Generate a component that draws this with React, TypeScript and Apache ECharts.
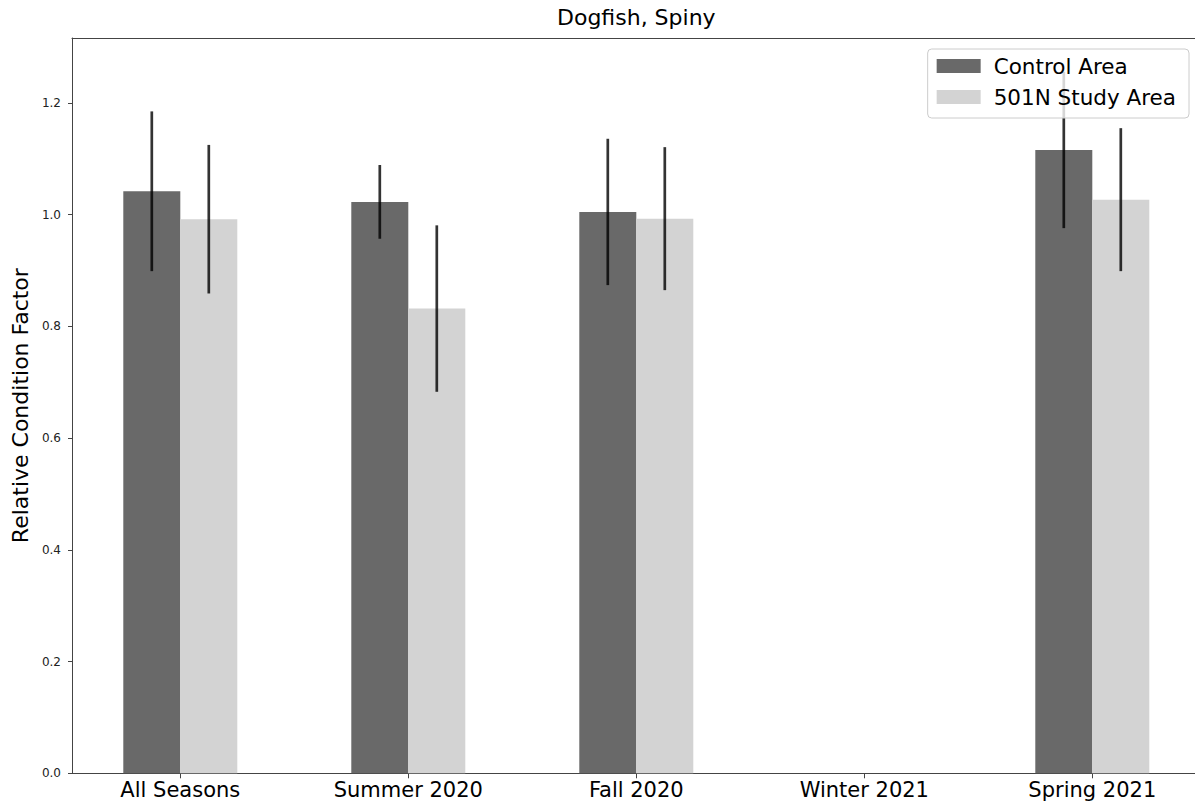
import React, { useEffect, useRef } from "react";
import * as echarts from "echarts";

const categories = ["All Seasons", "Summer 2020", "Fall 2020", "Winter 2021", "Spring 2021"];
const categoryIndex = [0, 1, 2, 4];
const controlValues = [1.042, 1.023, 1.005, 1.116];
const controlErrors = [0.143, 0.066, 0.131, 0.140];
const studyValues = [0.992, 0.832, 0.993, 1.027];
const studyErrors = [0.133, 0.149, 0.128, 0.128];
const yTicks = [0, 0.2, 0.4, 0.6, 0.8, 1.0, 1.2];

const FONT = "DejaVu Sans";

export default function App() {
  const ref = useRef<HTMLDivElement>(null);
  useEffect(() => {
    if (!ref.current) return;
    const chart = echarts.init(ref.current, null, { renderer: "svg" });

    const controlData = categoryIndex.map((c, i) => [c, controlValues[i]]);
    const studyData = categoryIndex.map((c, i) => [c, studyValues[i]]);
    const errData: number[][] = [];
    categoryIndex.forEach((c, i) => {
      errData.push([c, controlValues[i] - controlErrors[i], controlValues[i] + controlErrors[i], -1]);
      errData.push([c, studyValues[i] - studyErrors[i], studyValues[i] + studyErrors[i], 1]);
    });

    chart.setOption({
      animation: false,
      backgroundColor: "#ffffff",
      textStyle: { fontFamily: FONT },
      title: {
        text: "Dogfish, Spiny",
        left: 557,
        top: 6,
        padding: 0,
        textStyle: { fontFamily: FONT, fontSize: 22, fontWeight: "normal", color: "#000" },
      },
      legend: {
        orient: "vertical",
        right: 21,
        top: 49,
        data: ["Control Area", "501N Study Area"],
        icon: "rect",
        itemWidth: 44,
        itemHeight: 14,
        itemGap: 9,
        padding: [6, 13, 10, 9],
        backgroundColor: "rgba(255,255,255,0.8)",
        borderColor: "#cccccc",
        borderWidth: 1,
        borderRadius: 4,
        textStyle: { fontFamily: FONT, fontSize: 21.5, color: "#000", padding: [0, 0, 0, 8] },
      },
      grid: {
        left: 72,
        top: 38,
        right: 9.4,
        bottom: 32.7,
        outerBoundsMode: "none",
        show: false,
      },
      xAxis: [
        {
          type: "value",
          min: -0.475,
          max: 4.475,
          splitLine: { show: false },
          axisLine: { show: true, onZero: false, lineStyle: { color: "#444", width: 1 } },
          axisTick: { show: true, customValues: [0, 1, 2, 3, 4], length: 5, lineStyle: { color: "#444" } },
          axisLabel: {
            customValues: [0, 1, 2, 3, 4],
            formatter: (v: number) => categories[Math.round(v)],
            fontFamily: FONT,
            fontSize: 21,
            color: "#000",
            margin: 6,
          },
        },
        {
          type: "value",
          position: "top",
          min: -0.475,
          max: 4.475,
          splitLine: { show: false },
          axisLine: { show: true, onZero: false, lineStyle: { color: "#444", width: 1 } },
          axisTick: { show: false },
          axisLabel: { show: false },
        },
      ],
      yAxis: {
        type: "value",
        min: 0,
        max: 1.3164,
        interval: 0.2,
        splitLine: { show: false },
        axisLine: { show: true, onZero: false, lineStyle: { color: "#444", width: 1 } },
        axisTick: { show: true, length: 4, lineStyle: { color: "#444" } },
        axisLabel: {
          formatter: (v: number) => (yTicks.some((t) => Math.abs(t - v) < 1e-6) ? v.toFixed(1) : ""),
          showMaxLabel: false,
          fontFamily: FONT,
          fontSize: 12,
          color: "#222",
          margin: 11,
        },
        name: "Relative Condition Factor",
        nameLocation: "middle",
        nameGap: 39,
        nameTextStyle: { fontFamily: FONT, fontSize: 22, color: "#000" },
      },
      series: [
        {
          name: "Control Area",
          type: "bar",
          data: controlData,
          barWidth: 57,
          barGap: "0%",
          itemStyle: { color: "#696969" },
          z: 2,
        },
        {
          name: "501N Study Area",
          type: "bar",
          data: studyData,
          barWidth: 57,
          barGap: "0%",
          itemStyle: { color: "#d3d3d3" },
          z: 2,
        },
        {
          type: "custom",
          data: errData,
          z: 3,
          renderItem: (params: any, api: any) => {
            const x = api.value(0);
            const lo = api.value(1);
            const hi = api.value(2);
            const side = api.value(3);
            const off = api.size([0.125, 0])[0] * side;
            const p1 = api.coord([x, lo]);
            const p2 = api.coord([x, hi]);
            return {
              type: "line",
              shape: { x1: p1[0] + off, y1: p1[1], x2: p2[0] + off, y2: p2[1] },
              style: { stroke: "rgba(0,0,0,0.8)", lineWidth: 2.7 },
            };
          },
        },
      ],
    });
    return () => chart.dispose();
  }, []);
  return <div ref={ref} style={{ position: "fixed", left: 0, top: 0, width: 1210, height: 806 }} />;
}
